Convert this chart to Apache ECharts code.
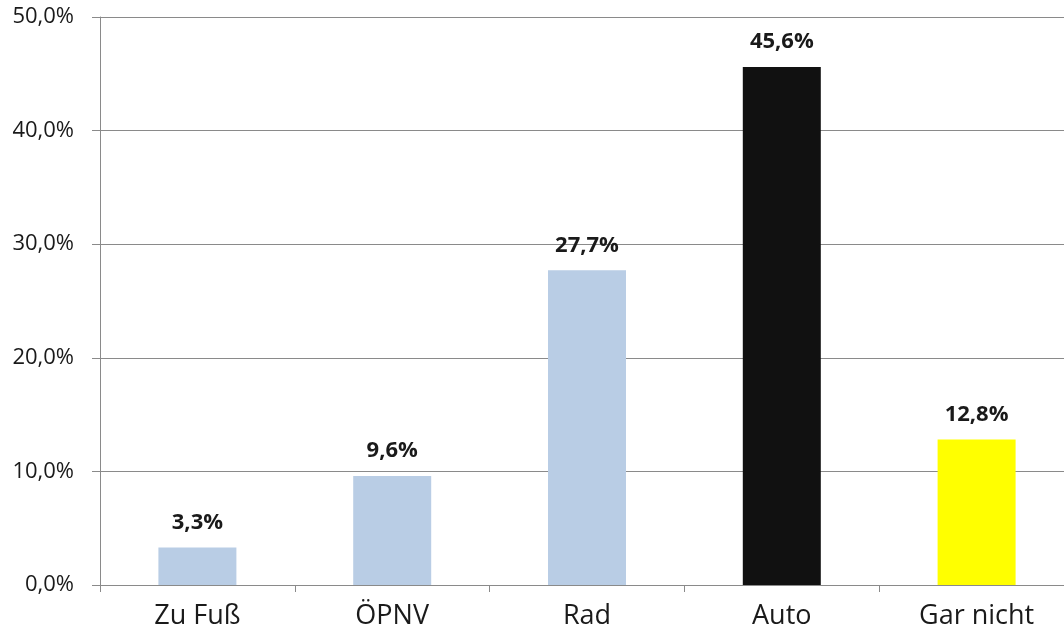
<!DOCTYPE html>
<html><head><meta charset="utf-8">
<script src="https://cdn.jsdelivr.net/npm/echarts@6/dist/echarts.min.js"></script>
<style>html,body{margin:0;padding:0;background:#fff;overflow:hidden}#c{width:1074px;height:634px}</style>
</head><body><div id="c"></div>
<script>
const categories = ["Zu Fuß", "ÖPNV", "Rad", "Auto", "Gar nicht"];
const values = [3.3, 9.6, 27.7, 45.6, 12.8];
const barColors = ["#b9cde5", "#b9cde5", "#b9cde5", "#111111", "#ffff00"];
const fmt = v => v.toFixed(1).replace('.', ',') + '%';
const FONT = 'Open Sans, Liberation Sans, sans-serif';
const chart = echarts.init(document.getElementById('c'));
chart.setOption({
  animation: false,
  grid: { left: 100, right: 0, top: 17, bottom: 49, containLabel: false },
  xAxis: {
    type: 'category', data: categories,
    axisLine: { lineStyle: { color: '#8a8a8a', width: 1 } },
    axisTick: { show: true, length: 7, lineStyle: { color: '#8a8a8a' } },
    axisLabel: { fontFamily: FONT, fontSize: 27, color: '#1a1a1a', margin: 18 }
  },
  yAxis: {
    type: 'value', min: 0, max: 50, interval: 10,
    axisLine: { show: true, lineStyle: { color: '#8a8a8a', width: 1 } },
    axisTick: { show: true, length: 8, lineStyle: { color: '#8a8a8a' } },
    splitLine: { lineStyle: { color: '#8a8a8a', width: 1 } },
    axisLabel: { fontFamily: FONT, fontSize: 22, color: '#1a1a1a', margin: 26,
      formatter: v => v.toFixed(1).replace('.', ',') + '%' }
  },
  series: [{
    type: 'bar', barWidth: 78,
    data: values.map((v, i) => ({ value: v, itemStyle: { color: barColors[i] } })),
    label: { show: true, position: 'top', distance: 14, fontFamily: FONT,
      fontSize: 22, fontWeight: 'bold', color: '#1a1a1a', formatter: p => fmt(p.value) }
  }]
});
</script></body></html>
